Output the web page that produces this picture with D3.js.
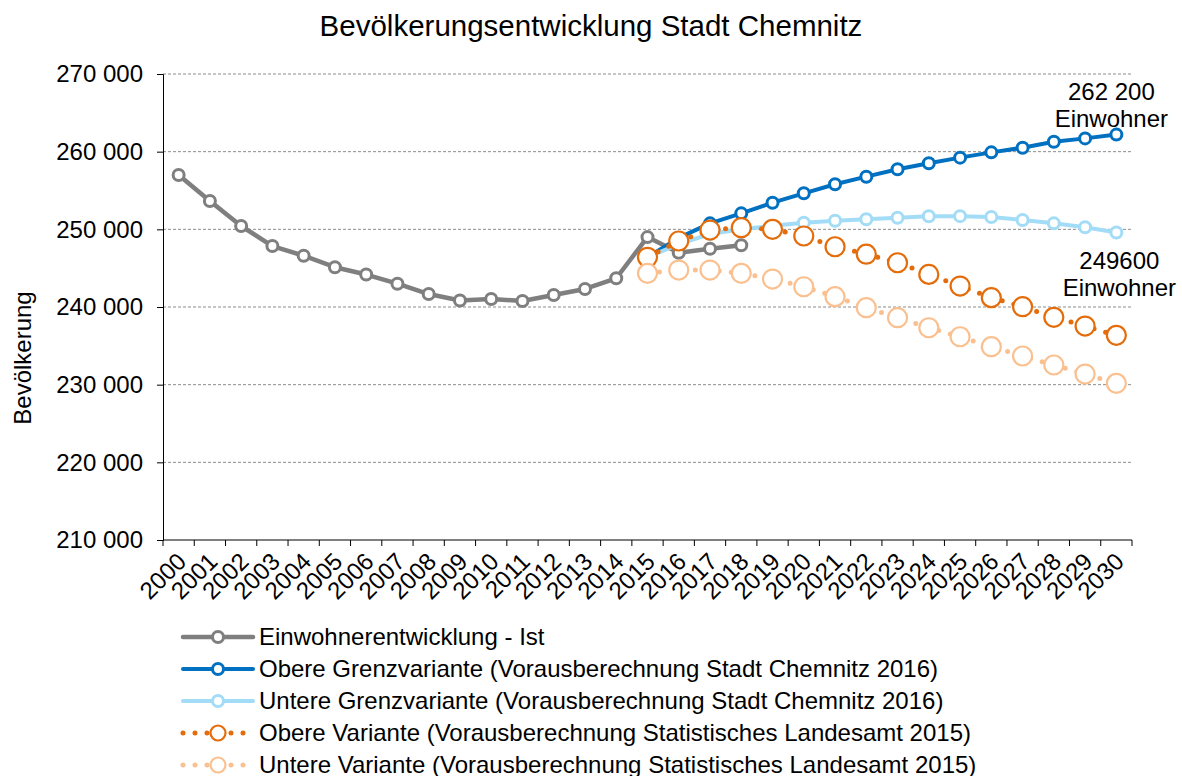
<!DOCTYPE html>
<html>
<head>
<meta charset="utf-8">
<script src="https://cdn.jsdelivr.net/npm/d3@7"></script>
<style>
  body { margin: 0; background: white; }
  svg text { font-family: "Liberation Sans", Arial, sans-serif; fill: #000; }
</style>
</head>
<body>
<svg width="1182" height="776"></svg>
<script>
// data
const years = d3.range(2000, 2031).map(String)
const yTicks = [210000, 220000, 230000, 240000, 250000, 260000, 270000]

const ist = [257000, 253650, 250430, 247850, 246600, 245120, 244180, 243000, 241670, 240830,
  241030, 240770, 241540, 242320, 243700, 249000, 246980, 247500, 247950]          // 2000-2018
const obereGrenz = [246400, 248900, 250770, 252060, 253430, 254640, 255800, 256780,
  257730, 258500, 259230, 259910, 260510, 261280, 261710, 262200]                   // 2015-2030
const untereGrenz = [246400, 248100, 249400, 250000, 250450, 250860, 251110, 251290,
  251500, 251680, 251700, 251580, 251200, 250770, 250260, 249600]                   // 2015-2030
const obereVar = [246400, 248500, 249910, 250210, 250000, 249140, 247760, 246800,
  245700, 244200, 242700, 241200, 240040, 238670, 237550, 236350]                   // 2015-2030
const untereVar = [244330, 244760, 244760, 244330, 243600, 242610, 241330, 239910,
  238620, 237330, 236170, 234890, 233690, 232530, 231370, 230170]                   // 2015-2030

const seriesNames = [
  'Einwohnerentwicklung - Ist',
  'Obere Grenzvariante (Vorausberechnung Stadt Chemnitz 2016)',
  'Untere Grenzvariante (Vorausberechnung Stadt Chemnitz 2016)',
  'Obere Variante (Vorausberechnung Statistisches Landesamt 2015)',
  'Untere Variante (Vorausberechnung Statistisches Landesamt 2015)'
]

const svg = d3.select('svg')
const width = +svg.attr('width')
const margin = {top: 74, left: 163, right: 50, bottom: 236}
const innerW = width - margin.left - margin.right
const innerH = +svg.attr('height') - margin.top - margin.bottom

const toPoints = (vals, startYear) => vals.map((v, i) => ({year: String(startYear + i), value: v}))

const series = [
  {name: seriesNames[0], data: toPoints(ist, 2000), color: '#7f7f7f', lw: 4.5, r: 5.5, mw: 3, dotted: false},
  {name: seriesNames[1], data: toPoints(obereGrenz, 2015), color: '#0070c0', lw: 4, r: 5.5, mw: 3, dotted: false},
  {name: seriesNames[2], data: toPoints(untereGrenz, 2015), color: '#a3dcf7', lw: 4, r: 5.5, mw: 3, dotted: false},
  {name: seriesNames[3], data: toPoints(obereVar, 2015), color: '#e46c0a', lw: 5, r: 9.5, mw: 2.2, dotted: true},
  {name: seriesNames[4], data: toPoints(untereVar, 2015), color: '#fac090', lw: 5, r: 9.5, mw: 2.2, dotted: true}
]

const x = d3.scaleBand().domain(years).range([0, innerW])
const y = d3.scaleLinear().domain([210000, 270000]).range([innerH, 0])
const cx = d => x(d) + x.bandwidth() / 2
const fmt = v => d3.format(',')(v).replace(/,/g, ' ')

const g = svg.append('g').attr('transform', `translate(${margin.left},${margin.top})`)

// title
svg.append('text')
  .attr('x', width / 2).attr('y', 36)
  .attr('text-anchor', 'middle')
  .style('font-size', '29.5px')
  .text('Bevölkerungsentwicklung Stadt Chemnitz')

// gridlines
g.append('g').selectAll('line')
  .data(yTicks.filter(t => t > 210000))
  .enter().append('line')
  .attr('x1', 0).attr('x2', innerW)
  .attr('y1', d => y(d)).attr('y2', d => y(d))
  .attr('stroke', '#8c8c8c').attr('stroke-width', 1)
  .attr('stroke-dasharray', '3,2')

// y axis
const yAxisG = g.append('g').call(d3.axisLeft(y).tickValues(yTicks).tickFormat(fmt).tickSize(6).tickPadding(14))
yAxisG.selectAll('text').style('font-size', '24px')
yAxisG.selectAll('path, line').attr('stroke', '#000')

svg.append('text')
  .attr('transform', `translate(31,358) rotate(-90)`)
  .attr('text-anchor', 'middle')
  .style('font-size', '24px')
  .text('Bevölkerung')

// x axis, ticks between categories
const xAxisG = g.append('g').attr('transform', `translate(0,${innerH})`)
xAxisG.append('line').attr('x1', 0).attr('x2', innerW).attr('stroke', '#000')
xAxisG.selectAll('line.tk')
  .data(years.concat(['end']))
  .enter().append('line')
  .attr('class', 'tk')
  .attr('x1', (d, i) => i * x.bandwidth()).attr('x2', (d, i) => i * x.bandwidth())
  .attr('y1', 0).attr('y2', 6)
  .attr('stroke', '#000')
xAxisG.selectAll('text')
  .data(years)
  .enter().append('text')
  .attr('transform', d => `translate(${cx(d) + 3},${17}) rotate(-45)`)
  .attr('text-anchor', 'end')
  .attr('dy', '0.35em')
  .style('font-size', '24px')
  .text(d => d)

// lines + markers
const line = d3.line().x(d => cx(d.year)).y(d => y(d.value))

series.forEach(s => {
  const sg = g.append('g')
  sg.append('path')
    .datum(s.data)
    .attr('d', line)
    .attr('fill', 'none')
    .attr('stroke', s.color)
    .attr('stroke-width', s.lw)
    .attr('stroke-linecap', 'round')
    .attr('stroke-linejoin', 'round')
    .attr('stroke-dasharray', s.dotted ? '0,12' : null)
  sg.selectAll('circle')
    .data(s.data)
    .enter().append('circle')
    .attr('cx', d => cx(d.year))
    .attr('cy', d => y(d.value))
    .attr('r', s.r)
    .attr('fill', '#fff')
    .attr('stroke', s.color)
    .attr('stroke-width', s.mw)
})

// end labels
const last = arr => arr[arr.length - 1]
const annot = [
  {value: last(obereGrenz), lines: ['262 200', 'Einwohner'], dx: -5, y0: -35},
  {value: last(untereGrenz), lines: ['249600', 'Einwohner'], dx: 3, y0: 37}
]
annot.forEach(a => {
  const t = g.append('text')
    .attr('text-anchor', 'middle')
    .style('font-size', '24px')
  a.lines.forEach((l, i) => {
    t.append('tspan')
      .attr('x', cx('2030') + a.dx)
      .attr('y', y(a.value) + a.y0 + i * 27)
      .text(l)
  })
})

// legend
const legend = svg.append('g').attr('transform', 'translate(183,637)')
const item = legend.selectAll('g')
  .data(series)
  .enter().append('g')
  .attr('transform', (d, i) => `translate(0,${i * 32})`)
item.append('line')
  .attr('x1', 0).attr('x2', 70)
  .attr('stroke', d => d.color)
  .attr('stroke-width', d => d.lw)
  .attr('stroke-linecap', 'round')
  .attr('stroke-dasharray', d => d.dotted ? '0,12' : null)
item.append('circle')
  .attr('cx', 35)
  .attr('r', d => d.dotted ? 7.5 : 5.5)
  .attr('fill', '#fff')
  .attr('stroke', d => d.color)
  .attr('stroke-width', d => d.mw)
item.append('text')
  .attr('x', 76)
  .attr('dy', '0.35em')
  .style('font-size', '24px')
  .text(d => d.name)
</script>
</body>
</html>
